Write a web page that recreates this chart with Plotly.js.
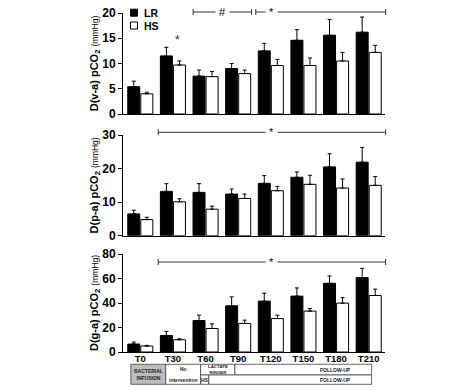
<!DOCTYPE html>
<html>
<head>
<meta charset="utf-8">
<script src="https://cdn.plot.ly/plotly-3.0.1.min.js"></script>
<style>html,body{margin:0;padding:0;background:#fff;}#chart{width:474px;height:391px;}</style>
</head>
<body>
<div id="chart"></div>
<script>
// ---- data ----
const categories = ['T0','T30','T60','T90','T120','T150','T180','T210'];
const seriesNames = ['LR','HS'];
const seriesColors = ['#000','#fff'];

const vaLR    = [5.4, 11.5, 7.5, 9.0, 12.5, 14.6, 15.6, 16.2];
const vaLRerr = [1.1, 1.7, 1.2, 1.0, 1.5, 2.1, 3.1, 3.0];
const vaHS    = [4.0, 9.7, 7.4, 8.0, 9.6, 9.6, 10.5, 12.2];
const vaHSerr = [0.3, 0.8, 1.0, 0.7, 1.2, 1.5, 1.7, 1.4];

const paLR    = [6.5, 13.2, 12.9, 12.4, 15.6, 17.4, 20.5, 21.9];
const paLRerr = [1.1, 2.3, 2.6, 1.5, 2.3, 1.6, 3.9, 4.4];
const paHS    = [4.8, 10.1, 7.9, 11.1, 13.4, 15.3, 14.2, 15.0];
const paHSerr = [0.7, 0.9, 0.9, 1.3, 1.3, 2.7, 2.7, 2.6];

const gaLR    = [6.5, 13.5, 25.7, 37.7, 41.5, 45.6, 56.1, 60.7];
const gaLRerr = [1.6, 3.3, 4.4, 7.3, 6.5, 6.7, 6.0, 7.6];
const gaHS    = [4.9, 10.0, 19.2, 23.3, 27.3, 33.4, 39.9, 46.1];
const gaHSerr = [0.5, 0.8, 3.8, 2.7, 2.8, 2.1, 4.5, 5.2];

const yTitles = ['D(v-a) pCO', 'D(p-a) pCO', 'D(g-a) pCO'];
const yTicks = [[0,5,10,15,20],[0,10,20,30],[0,20,40,60,80]];
const phaseLabels = ['BACTERIAL<br>INFUSION', 'No', 'intervention', 'LACTATE<br>RINGER', 'FOLLOW-UP', 'HS', 'FOLLOW-UP'];

// ---- layout helpers ----
const W = 474, H = 391, M = {l:123, r:89, t:13, b:39};
const plotW = W - M.l - M.r, plotH = H - M.t - M.b;
const XR = [-0.53, 7.5];
const yp = py => (H - M.b - py) / plotH;            // pixel row -> paper
const xp = px => (px - M.l) / plotW;                // pixel column -> paper
const xu = u => (u - XR[0]) / (XR[1] - XR[0]);       // category unit -> paper
const FONT = 'Liberation Sans, Arial, sans-serif';

const panels = [
  {lr: vaLR, lre: vaLRerr, hs: vaHS, hse: vaHSerr, dom: [yp(114), 1], range: [0,20]},
  {lr: paLR, lre: paLRerr, hs: paHS, hse: paHSerr, dom: [yp(235.7), yp(135)], range: [0,30]},
  {lr: gaLR, lre: gaLRerr, hs: gaHS, hse: gaHSerr, dom: [0, yp(254)], range: [0,80]}
];

const zeros = categories.map(() => 0);
const traces = [];
const layout = {
  width: W, height: H, margin: M,
  paper_bgcolor: '#fff', plot_bgcolor: '#fff',
  barmode: 'group', bargap: 0.2, bargroupgap: 0.08,
  font: {family: FONT, color: '#000'},
  showlegend: false,
  shapes: [], annotations: []
};

panels.forEach((p, i) => {
  const sfx = i === 0 ? '' : String(i + 1);
  const xa = 'x' + sfx, ya = 'y' + sfx;
  [[p.lr, p.lre], [p.hs, p.hse]].forEach((d, k) => traces.push({
    type: 'bar', name: seriesNames[k], x: categories, y: d[0], xaxis: xa, yaxis: ya,
    marker: {color: seriesColors[k], line: {color: '#000', width: 1}},
    error_y: {type: 'data', symmetric: false, array: d[1], arrayminus: zeros, color: '#000', thickness: 1, width: 2}
  }));
  layout['xaxis' + sfx] = {
    anchor: ya, domain: [0, 1], range: XR, type: 'category',
    showline: true, linecolor: '#000', linewidth: 1, ticks: '', showgrid: false, zeroline: false,
    showticklabels: i === 2, ticklabelstandoff: -2, tickfont: {size: 9.5, weight: 'bold', family: FONT}
  };
  layout['yaxis' + sfx] = {
    anchor: xa, domain: p.dom, range: p.range, tickvals: yTicks[i],
    showline: true, linecolor: '#000', linewidth: 1, ticks: 'outside', ticklen: 4, tickwidth: 1, tickcolor: '#000',
    showgrid: false, zeroline: false, tickfont: {size: 12, weight: 'bold', family: FONT},
    title: {text: '<b>' + yTitles[i] + '<sub>2</sub></b> <span style="font-size:8.5px">(mmHg)</span>',
            font: {size: 11, family: FONT}, standoff: 0}
  };
});

// legend (drawn inside top panel)
const legendRows = [12.7, 25.5];
seriesNames.forEach((n, k) => {
  const cy = legendRows[k];
  layout.shapes.push({type: 'rect', xref: 'paper', yref: 'paper', x0: xp(130.5), x1: xp(137.5), y0: yp(cy + 3.5), y1: yp(cy - 3.5),
    fillcolor: seriesColors[k], line: {color: '#000', width: 1}});
  layout.annotations.push({xref: 'paper', yref: 'paper', x: xp(141.5), y: yp(cy), text: n, showarrow: false,
    xanchor: 'left', yanchor: 'middle', font: {size: 10.5, weight: 'bold', family: FONT, color: '#000'}});
});

// significance brackets
const brackets = [
  {x0: 1.62, x1: 3.41, y: yp(12), label: '#', lx: 2.52},
  {x0: 3.54, x1: 7.52, y: yp(12), label: '*', lx: 4.02},
  {x0: 0.55, x1: 7.52, y: yp(132.3), label: '*', lx: 4.02},
  {x0: 0.55, x1: 7.52, y: yp(262), label: '*', lx: 4.02}
];
const tickH = 3 / plotH;
brackets.forEach(b => {
  layout.shapes.push({type: 'line', xref: 'paper', yref: 'paper', x0: xu(b.x0), x1: xu(b.x1), y0: b.y, y1: b.y, line: {color: '#333', width: 1}});
  [b.x0, b.x1].forEach(xx => layout.shapes.push({type: 'line', xref: 'paper', yref: 'paper', x0: xu(xx), x1: xu(xx), y0: b.y - tickH, y1: b.y + tickH, line: {color: '#333', width: 1}}));
  layout.annotations.push({xref: 'paper', yref: 'paper', x: xu(b.lx), y: b.y, text: b.label, showarrow: false,
    font: {size: 11, family: FONT, color: '#000'}, bgcolor: '#fff', borderpad: 3, xanchor: 'center', yanchor: 'middle'});
});
// star over T30 in panel 1
layout.annotations.push({xref: 'x', yref: 'y', x: 1.13, y: 14.6, text: '*', showarrow: false,
  font: {size: 12, family: FONT, color: '#333'}, xanchor: 'center', yanchor: 'middle'});

// timeline boxes below the bottom panel
const rTop = yp(364.3), rMid = yp(375), rBot = yp(384.3);
const boxes = [
  {x0: -0.29, x1: 0.78, y0: rBot, y1: rTop, fill: '#bdbdbd'},
  {x0: 0.78, x1: 1.85, y0: rBot, y1: rTop, fill: '#fff'},
  {x0: 1.85, x1: 2.90, y0: rMid, y1: rTop, fill: '#fff'},
  {x0: 2.90, x1: 7.09, y0: rMid, y1: rTop, fill: '#fff'},
  {x0: 1.85, x1: 2.10, y0: rBot, y1: rMid, fill: '#fff'},
  {x0: 2.10, x1: 7.09, y0: rBot, y1: rMid, fill: '#fff'}
];
boxes.forEach(b => layout.shapes.push({type: 'rect', xref: 'paper', yref: 'paper', x0: xu(b.x0), x1: xu(b.x1), y0: b.y0, y1: b.y1,
  fillcolor: b.fill, line: {color: '#444', width: 0.8}}));
const labelPos = [
  {x: 0.245, y: (rTop + rBot) / 2, s: 5},
  {x: 1.315, y: yp(369.5), s: 5},
  {x: 1.315, y: yp(379.5), s: 5},
  {x: 2.375, y: (rTop + rMid) / 2, s: 4.4},
  {x: 5.97, y: (rTop + rMid) / 2, s: 5},
  {x: 1.975, y: (rMid + rBot) / 2, s: 5},
  {x: 5.97, y: (rMid + rBot) / 2, s: 5}
];
phaseLabels.forEach((t, i) => layout.annotations.push({xref: 'paper', yref: 'paper', x: xu(labelPos[i].x), y: labelPos[i].y,
  text: t, showarrow: false, font: {size: labelPos[i].s, family: FONT, color: '#222', weight: 'bold'}, xanchor: 'center', yanchor: 'middle'}));

Plotly.newPlot('chart', traces, layout, {displayModeBar: false, staticPlot: true});
</script>
</body>
</html>
